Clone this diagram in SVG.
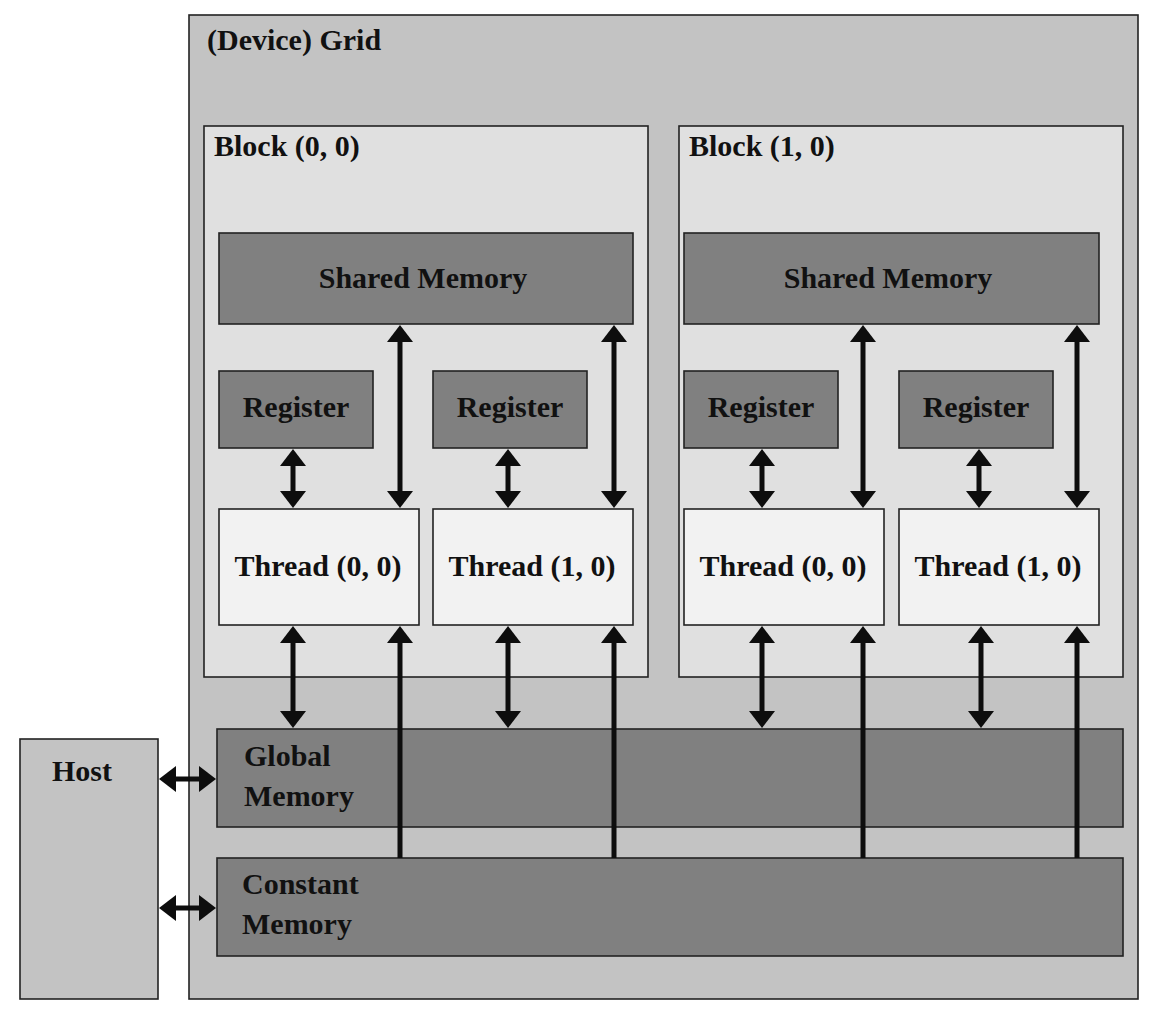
<svg xmlns="http://www.w3.org/2000/svg" width="1153" height="1015" viewBox="0 0 1153 1015">
<style>
text{font-family:"Liberation Serif","Times New Roman",serif;font-weight:bold;font-size:30px;fill:#111}
.c{text-anchor:middle}
.grid{fill:#c3c3c3;stroke:#222;stroke-width:1.6}
.blk{fill:#e0e0e0;stroke:#222;stroke-width:1.6}
.dark{fill:#808080;stroke:#222;stroke-width:1.6}
.thr{fill:#f2f2f2;stroke:#222;stroke-width:1.6}
.ln{stroke:#0d0d0d;stroke-width:5;fill:none}
</style>
<defs>
<marker id="ah" viewBox="0 0 17 26" refX="0" refY="13" markerWidth="17" markerHeight="26" markerUnits="userSpaceOnUse" orient="auto-start-reverse">
<path d="M0,0 L17,13 L0,26 Z" fill="#0d0d0d"/>
</marker>
</defs>
<rect width="1153" height="1015" fill="#fff"/>
<g id="grid"><rect class="grid" x="189" y="15" width="949" height="984"/><text x="207" y="50">(Device) Grid</text></g>
<g id="host"><rect class="grid" x="20" y="739" width="138" height="260"/><text x="52" y="781">Host</text></g>
<g id="block00"><rect class="blk" x="204" y="126" width="444" height="551"/><text x="214" y="156">Block (0, 0)</text></g>
<g id="block10"><rect class="blk" x="679" y="126" width="444" height="551"/><text x="689" y="156">Block (1, 0)</text></g>
<g id="shared00"><rect class="dark" x="219" y="233" width="414" height="91"/><text class="c" x="423" y="288">Shared Memory</text></g>
<g id="shared10"><rect class="dark" x="684" y="233" width="415" height="91"/><text class="c" x="888" y="288">Shared Memory</text></g>
<g id="reg00"><rect class="dark" x="219" y="371" width="154" height="77"/><text class="c" x="296" y="417">Register</text></g>
<g id="reg01"><rect class="dark" x="433" y="371" width="154" height="77"/><text class="c" x="510" y="417">Register</text></g>
<g id="reg10"><rect class="dark" x="684" y="371" width="154" height="77"/><text class="c" x="761" y="417">Register</text></g>
<g id="reg11"><rect class="dark" x="899" y="371" width="154" height="77"/><text class="c" x="976" y="417">Register</text></g>
<g id="thr00"><rect class="thr" x="219" y="509" width="200" height="116"/><text class="c" x="318" y="576">Thread (0, 0)</text></g>
<g id="thr01"><rect class="thr" x="433" y="509" width="200" height="116"/><text class="c" x="532" y="576">Thread (1, 0)</text></g>
<g id="thr10"><rect class="thr" x="684" y="509" width="200" height="116"/><text class="c" x="783" y="576">Thread (0, 0)</text></g>
<g id="thr11"><rect class="thr" x="899" y="509" width="200" height="116"/><text class="c" x="998" y="576">Thread (1, 0)</text></g>
<g id="global"><rect class="dark" x="217" y="729" width="906" height="98"/><text x="244" y="766">Global</text><text x="244" y="806">Memory</text></g>
<g id="constant"><rect class="dark" x="217" y="858" width="906" height="98"/><text x="242" y="894">Constant</text><text x="242" y="934">Memory</text></g>
<g id="connectors">
<line class="ln" x1="293" y1="466" x2="293" y2="491" marker-start="url(#ah)" marker-end="url(#ah)"/>
<line class="ln" x1="508" y1="466" x2="508" y2="491" marker-start="url(#ah)" marker-end="url(#ah)"/>
<line class="ln" x1="762" y1="466" x2="762" y2="491" marker-start="url(#ah)" marker-end="url(#ah)"/>
<line class="ln" x1="979" y1="466" x2="979" y2="491" marker-start="url(#ah)" marker-end="url(#ah)"/>
<line class="ln" x1="400" y1="342" x2="400" y2="491" marker-start="url(#ah)" marker-end="url(#ah)"/>
<line class="ln" x1="614" y1="342" x2="614" y2="491" marker-start="url(#ah)" marker-end="url(#ah)"/>
<line class="ln" x1="863" y1="342" x2="863" y2="491" marker-start="url(#ah)" marker-end="url(#ah)"/>
<line class="ln" x1="1077" y1="342" x2="1077" y2="491" marker-start="url(#ah)" marker-end="url(#ah)"/>
<line class="ln" x1="293" y1="643" x2="293" y2="711" marker-start="url(#ah)" marker-end="url(#ah)"/>
<line class="ln" x1="508" y1="643" x2="508" y2="711" marker-start="url(#ah)" marker-end="url(#ah)"/>
<line class="ln" x1="762" y1="643" x2="762" y2="711" marker-start="url(#ah)" marker-end="url(#ah)"/>
<line class="ln" x1="981" y1="643" x2="981" y2="711" marker-start="url(#ah)" marker-end="url(#ah)"/>
<line class="ln" x1="400" y1="858" x2="400" y2="643" marker-end="url(#ah)"/>
<line class="ln" x1="614" y1="858" x2="614" y2="643" marker-end="url(#ah)"/>
<line class="ln" x1="863" y1="858" x2="863" y2="643" marker-end="url(#ah)"/>
<line class="ln" x1="1077" y1="858" x2="1077" y2="643" marker-end="url(#ah)"/>
<line class="ln" x1="176" y1="779" x2="199" y2="779" marker-start="url(#ah)" marker-end="url(#ah)"/>
<line class="ln" x1="176" y1="908" x2="199" y2="908" marker-start="url(#ah)" marker-end="url(#ah)"/>
</g>
</svg>
